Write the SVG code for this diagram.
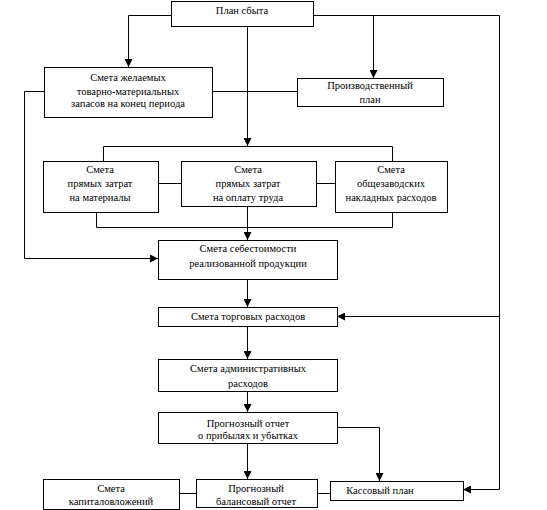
<svg xmlns="http://www.w3.org/2000/svg" width="547" height="510" viewBox="0 0 547 510">
<style>
.box{fill:#fff;stroke:#000;stroke-width:1}
.ln{fill:none;stroke:#000;stroke-width:1}
.ar{marker-end:url(#arr)}
.t{font-family:'Liberation Serif','DejaVu Serif',serif;font-size:10.5px;fill:#000;text-anchor:middle}
</style>
<defs>
<marker id="arr" viewBox="0 0 8 8" refX="8" refY="4" markerWidth="8" markerHeight="8" markerUnits="userSpaceOnUse" orient="auto">
<path d="M0,0 L8,4 L0,8 Z" fill="#000"/>
</marker>
</defs>
<rect width="547" height="510" fill="#fff"/>
<g id="connectors">
<path class="ln ar" d="M171.5,15.5 H128.5 V67"/>
<path class="ln" d="M313,15.5 H499.5 V489"/>
<path class="ln ar" d="M373.5,15.5 V78"/>
<path class="ln" d="M212,91.5 H297"/>
<path class="ln ar" d="M44,91.5 H24.5 V258.5 H158"/>
<path class="ln ar" d="M247.5,26 V146"/>
<path class="ln" d="M103.5,161 V146.5 H392.5 V161"/>
<path class="ln" d="M158,183.5 H181 M316,183.5 H335"/>
<path class="ln" d="M96.5,212 V227.5 H392.5 V212"/>
<path class="ln ar" d="M247.5,206 V240"/>
<path class="ln ar" d="M247.5,279 V307"/>
<path class="ln ar" d="M499.5,316.5 H337"/>
<path class="ln ar" d="M247.5,326 V359"/>
<path class="ln ar" d="M247.5,391 V412"/>
<path class="ln ar" d="M337,427.5 H379.5 V481"/>
<path class="ln ar" d="M499.5,489 V489.5 H463"/>
<path class="ln ar" d="M247.5,443 V479"/>
<path class="ln" d="M179,493.5 H196 M317,493.5 H330"/>
</g>
<g class="t" font-family="Liberation Serif, DejaVu Serif, serif">
<g id="plan-sbyta"><rect class="box" x="171.5" y="1.5" width="142" height="25"/><text x="242" y="14">План сбыта</text></g>
<g id="smeta-zapasov"><rect class="box" x="44.5" y="67.5" width="168" height="50"/><text x="128" y="81">Смета желаемых</text><text x="128" y="95">товарно-материальных</text><text x="128" y="107">запасов на конец периода</text></g>
<g id="proizv-plan"><rect class="box" x="297.5" y="78.5" width="146" height="28"/><text x="370" y="89">Производственный</text><text x="370" y="103">план</text></g>
<g id="smeta-materialy"><rect class="box" x="43.5" y="161.5" width="115" height="51"/><text x="100" y="173">Смета</text><text x="100" y="187">прямых затрат</text><text x="100" y="201">на материалы</text></g>
<g id="smeta-trud"><rect class="box" x="181.5" y="161.5" width="135" height="45"/><text x="248" y="173">Смета</text><text x="248" y="187">прямых затрат</text><text x="248" y="201">на оплату труда</text></g>
<g id="smeta-nakladnye"><rect class="box" x="335.5" y="161.5" width="112" height="51"/><text x="391" y="173">Смета</text><text x="391" y="187">общезаводских</text><text x="391" y="201">накладных расходов</text></g>
<g id="smeta-sebestoimosti"><rect class="box" x="158.5" y="240.5" width="179" height="39"/><text x="248" y="252">Смета себестоимости</text><text x="248" y="267">реализованной продукции</text></g>
<g id="smeta-torgovyh"><rect class="box" x="158.5" y="307.5" width="179" height="19"/><text x="248" y="320">Смета торговых расходов</text></g>
<g id="smeta-admin"><rect class="box" x="158.5" y="359.5" width="179" height="32"/><text x="248" y="372">Смета административных</text><text x="248" y="387">расходов</text></g>
<g id="prognoz-otchet"><rect class="box" x="158.5" y="412.5" width="179" height="31"/><text x="248" y="427">Прогнозный отчет</text><text x="248" y="439">о прибылях и убытках</text></g>
<g id="smeta-kapital"><rect class="box" x="43.5" y="479.5" width="136" height="30"/><text x="111" y="492">Смета</text><text x="111" y="505">капиталовложений</text></g>
<g id="prognoz-balans"><rect class="box" x="196.5" y="479.5" width="121" height="28"/><text x="256" y="492">Прогнозный</text><text x="256" y="505">балансовый отчет</text></g>
<g id="kassovy-plan"><rect class="box" x="330.5" y="481.5" width="133" height="19"/><text x="380" y="494">Кассовый план</text></g>
</g>
</svg>
